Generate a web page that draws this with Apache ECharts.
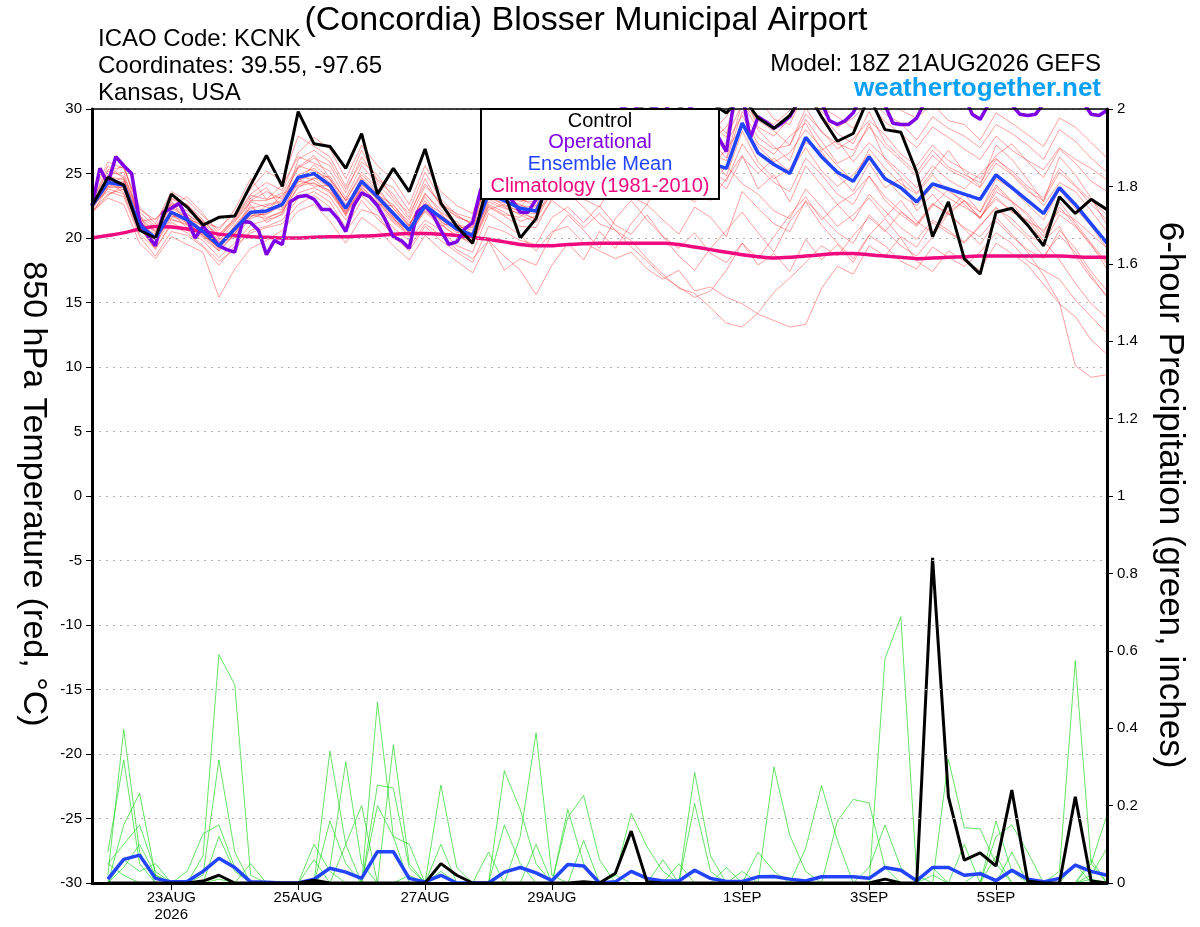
<!DOCTYPE html>
<html><head><meta charset="utf-8">
<script src="https://cdn.jsdelivr.net/npm/echarts@6/dist/echarts.min.js"></script>
<style>html,body{margin:0;padding:0;background:#fff}#c{width:1200px;height:927px}</style>
</head><body><div id="c"></div>
<script>
// x values are 6-hour steps from 18Z 21AUG2026 (0) to 18Z 06SEP2026 (64)
const tickIndex = [5, 13, 21, 29, 41, 49, 57];
const tickLabels = ['23AUG\n2026', '25AUG', '27AUG', '29AUG', '1SEP', '3SEP', '5SEP'];

// Control (black) 850 hPa temperature, 6-hourly
const controlTemp = [
  22.5, 24.7, 24.1, 20.6, 20.0, 23.4, 22.4, 21.0, 21.6, 21.7, 24.1, 26.4, 24.0,
  29.8, 27.3, 27.1, 25.4, 28.1, 23.4, 25.4, 23.6, 26.9, 22.7, 20.9, 19.6, 24.5,
  23.5, 20.0, 21.5, 25.5, 27.0, 28.5, 29.0, 28.0, 29.5, 30.5, 29.0, 30.0, 31.0,
  30.5, 29.7, 31.0, 29.3, 28.5, 29.5, 31.5, 29.4, 27.5, 28.1, 31.0, 28.4, 28.2,
  25.1, 20.1, 22.8, 18.4, 17.2, 22.0, 22.3, 21.0, 19.4, 23.2, 21.9, 23.0, 22.2];
// Ensemble mean (blue)
const meanTemp = [
  22.5, 24.3, 24.1, 21.0, 20.0, 22.0, 21.4, 20.5, 19.4, 20.7, 22.0, 22.1, 22.6,
  24.7, 25.0, 24.1, 22.3, 24.4, 23.2, 21.9, 20.6, 22.5, 21.6, 20.7, 20.2, 23.4,
  22.9, 22.3, 22.1, 24.5, 25.0, 25.3, 25.6, 25.2, 25.8, 26.2, 25.5, 26.0, 26.4,
  25.8, 25.4, 28.9, 26.6, 25.7, 25.0, 27.8, 26.3, 25.1, 24.4, 26.3, 24.6, 23.9,
  22.8, 24.2, 23.8, 23.4, 23.0, 24.9, 23.9, 22.9, 21.9, 23.9, 22.6, 21.1, 19.6];
// Climatology 1981-2010 (pink)
const climTemp = [
  20.0, 20.2, 20.4, 20.7, 20.9, 20.85, 20.7, 20.5, 20.3, 20.2, 20.1, 20.05, 20.0,
  20.0, 20.05, 20.1, 20.1, 20.15, 20.2, 20.3, 20.35, 20.35, 20.3, 20.2, 20.05, 19.9,
  19.7, 19.5, 19.4, 19.4, 19.5, 19.55, 19.6, 19.6, 19.6, 19.6, 19.6, 19.5, 19.3,
  19.1, 18.9, 18.7, 18.55, 18.45, 18.5, 18.6, 18.7, 18.8, 18.8, 18.7, 18.6, 18.5,
  18.4, 18.45, 18.5, 18.55, 18.6, 18.6, 18.6, 18.6, 18.6, 18.6, 18.55, 18.5, 18.5];
// Operational (purple), 3-hourly
const operTemp = [
  22.5, 25.4, 24.2, 26.3, 25.6, 25.0, 21.3, 20.2, 19.4, 22.0, 22.3, 22.7, 21.5, 20.0, 20.9, 20.2,
  19.4, 19.1, 18.9, 21.3, 21.2, 20.6, 18.7, 19.8, 19.5, 22.8, 23.2, 23.3, 23.0, 22.2, 22.2, 21.5,
  20.5, 22.5, 23.5, 23.2, 22.5, 21.4, 20.1, 19.8, 19.2, 22.0, 22.5, 21.8, 20.6, 19.5, 19.7, 20.7,
  21.2, 23.7, 25.0, 24.5, 23.5, 22.9, 22.0, 22.0, 23.0, 25.2, 26.0, 26.8, 27.5, 28.1, 27.4, 28.6,
  29.3, 28.7, 29.5, 30.2, 29.6, 30.4, 30.8, 30.1, 29.7, 30.5, 31.0, 30.4, 29.8, 29.1, 28.6, 27.8,
  26.7, 30.8, 31.2, 27.7, 29.4, 29.0, 28.5, 28.9, 29.4, 30.5, 31.5, 31.0, 30.5, 29.1, 28.8, 29.1,
  29.7, 31.0, 31.5, 31.0, 30.3, 28.9, 28.8, 28.8, 29.3, 30.5, 31.0, 31.5, 32.0, 31.5, 31.0, 29.6,
  29.2, 30.3, 31.0, 31.5, 30.3, 29.6, 29.5, 29.6, 30.4, 31.0, 31.5, 31.2, 31.0, 30.5, 29.6, 29.5,
  29.9];

// Ensemble member temperatures (thin red)
const memT01 = [22.3,24.9,25.1,21.5,20.4,23.1,22.6,21.2,20.8,21.9,23.8,25.2,24.4, 27.9,27.1,26.3,24.0,26.8,24.5,23.9,22.1,25.1,23.0,21.8,21.0,24.8, 24.0,23.2,23.5,26.3,27.5,28.0,27.2,28.4,29.5,28.1,29.2,30.5,29.0, 28.2,29.4,31.5,28.6,27.9,29.3,31.2,29.5,28.1,27.3,29.8,27.4,26.2, 25.1,26.8,25.5,24.9,24.3,26.1,25.2,24.0,23.1,25.4,24.1,22.9,21.8];
const memT02 = [22.6,23.6,23.2,20.1,18.6,20.5,20.2,19.3,17.9,19.4,20.4,20.8,21.1, 22.6,23.3,22.4,20.5,22.2,21.8,20.1,19.0,20.9,19.8,18.9,18.1,20.9, 20.5,19.8,19.5,21.6,22.4,21.2,22.5,21.0,20.3,21.8,20.1,19.2,20.4, 18.8,18.1,19.6,17.9,18.8,17.4,19.9,18.3,19.5,18.1,20.2,19.4,18.2, 17.6,19.3,18.5,17.8,18.9,20.4,19.6,18.2,17.5,16.8,15.2,13.9,12.6];
const memT03 = [22.8,25.6,24.6,21.8,19.5,22.9,21.0,20.0,19.0,20.3,22.9,23.6,23.0, 25.5,26.4,24.6,22.9,25.1,23.9,22.3,20.9,23.5,21.9,20.5,20.1,23.9, 23.8,22.9,22.8,25.1,26.4,24.8,26.9,27.8,25.4,26.8,28.3,27.1,25.9, 27.6,26.2,30.5,28.4,27.1,26.0,29.2,27.5,25.8,26.4,28.9,26.1,24.7, 23.5,25.2,26.8,25.1,24.0,27.2,26.1,24.5,22.8,26.3,24.9,23.1,21.0];
const memT04 = [21.9,23.9,24.0,20.6,20.2,21.6,21.9,20.8,19.9,20.1,21.5,22.0,23.4, 24.1,24.6,24.8,22.9,23.7,22.6,22.5,21.2,22.0,20.9,21.3,19.6,22.5, 21.8,21.6,22.9,23.9,24.6,26.1,25.3,24.2,26.5,27.3,25.0,26.7,27.9, 26.4,24.8,28.3,25.9,24.6,25.4,27.4,26.7,24.9,23.6,25.8,23.9,24.6, 22.1,23.4,22.0,22.9,21.5,23.6,22.8,21.9,20.4,22.8,21.2,19.6,18.1];
const memT05 = [22.4,24.4,23.5,20.8,19.1,21.2,20.6,19.8,18.5,19.6,21.0,21.4,21.8, 23.5,23.9,23.2,21.4,23.3,22.1,20.8,19.8,21.4,20.6,19.4,18.9,21.9, 21.1,20.2,19.0,20.5,20.9,19.6,19.0,18.4,18.9,17.6,16.8,17.5,15.9, 16.2,15.4,14.9,14.1,13.6,13.1,13.3,16.1,17.8,17.2,19.4,18.6,20.1, 19.3,21.2,20.4,19.7,21.0,22.3,21.5,20.2,19.6,21.8,20.9,19.4,18.0];
const memT06 = [22.7,24.6,25.8,21.3,21.5,22.5,23.2,21.9,20.3,21.4,23.1,23.9,22.3, 26.1,26.8,25.9,23.8,25.9,24.9,23.1,21.9,24.2,22.6,21.9,21.5,24.2, 23.3,22.4,23.8,25.9,27.1,26.5,28.4,27.6,28.9,30.2,29.1,28.4,30.4, 29.5,28.1,32.0,30.9,29.2,28.8,31.5,30.1,29.4,28.5,30.8,29.6,28.9, 27.6,29.4,28.5,27.9,27.0,28.8,28.1,27.2,26.1,28.4,27.5,26.2,25.1];
const memT07 = [22.1,23.4,23.8,21.1,20.6,21.9,20.8,20.4,19.1,21.0,22.4,21.6,22.0, 24.0,24.3,23.5,21.8,24.0,22.7,21.3,20.4,22.9,21.2,20.8,19.8,22.8, 22.3,21.9,21.5,24.0,23.6,24.9,23.7,25.0,24.1,25.6,23.9,25.1,24.3, 22.9,24.6,26.4,23.8,24.9,22.8,25.6,24.1,22.6,23.4,24.8,22.9,21.8, 20.9,22.5,23.8,22.6,21.5,23.9,22.8,21.0,19.8,20.9,18.6,16.9,15.5];
const memT08 = [22.5,24.1,24.4,21.4,20.0,22.3,21.6,20.9,19.6,20.9,22.3,22.6,22.9, 24.9,25.4,24.3,22.4,24.7,23.5,22.0,20.7,22.6,21.5,20.6,20.4,23.6, 23.1,22.6,22.0,24.3,25.2,24.6,25.9,24.8,26.1,25.3,24.2,25.8,26.9, 25.1,24.4,27.3,25.5,24.3,23.6,26.2,24.9,23.4,22.6,24.8,23.2,22.1, 21.0,22.6,21.9,20.8,20.1,21.6,20.3,18.9,17.1,15.0,10.1,9.2,9.4];
const memT09 = [22.9,25.2,24.8,22.0,20.9,22.7,22.1,21.3,20.2,21.6,23.4,24.3,23.7, 26.6,27.8,26.9,24.6,27.2,25.6,24.5,22.6,25.6,23.6,22.5,21.9,25.2, 24.6,24.1,24.6,27.0,28.3,27.6,29.1,28.5,30.3,29.8,28.6,31.0,30.2, 29.4,30.8,33.0,31.2,30.6,31.4,33.2,31.8,30.9,30.1,32.1,30.7,29.9, 29.3,30.4,29.1,28.8,27.6,29.7,28.9,28.0,27.1,29.3,28.6,27.4,26.2];
const memT10 = [22.2,24.0,23.9,21.2,19.8,21.8,21.3,20.1,19.5,20.6,21.7,21.9,22.5, 24.5,24.9,23.9,21.9,24.2,23.0,21.6,20.1,22.3,21.8,20.9,20.6,23.3, 22.5,22.1,21.4,23.6,24.1,23.0,22.4,24.5,23.2,22.6,24.8,23.5,22.8, 24.1,25.6,24.2,23.4,22.1,21.5,23.8,22.4,20.9,21.8,23.1,21.6,22.9, 21.3,20.4,22.1,23.4,22.0,24.1,22.9,21.7,20.1,22.4,21.0,19.5,17.6];
const memT11 = [22.0,23.1,22.6,19.6,18.4,20.1,19.5,18.9,15.4,17.6,19.2,19.8,20.6, 22.1,22.6,21.3,19.6,21.6,20.7,19.4,18.3,20.2,19.1,18.2,17.3,19.8, 18.6,17.5,15.6,17.9,19.6,18.3,20.5,19.2,21.1,22.6,21.4,20.3,22.4, 21.6,20.1,23.6,22.3,21.1,20.5,22.9,21.7,20.4,19.6,21.8,20.6,19.4, 18.6,20.1,21.9,20.7,19.5,21.3,20.1,19.1,18.4,20.6,19.2,17.4,15.9];
const memT12 = [23.2,25.9,25.4,22.4,21.1,23.6,22.9,21.7,20.6,22.2,24.6,23.0,24.1, 26.3,25.8,25.2,23.1,25.6,24.2,22.9,21.4,24.0,22.8,21.6,21.2,24.5, 23.9,23.5,23.1,25.5,26.9,25.6,27.3,26.2,27.5,28.6,27.0,28.1,27.3, 28.9,27.8,30.4,29.1,28.3,27.2,29.6,28.3,26.9,27.7,29.1,28.0,26.5, 25.6,27.2,26.0,25.3,24.6,26.4,27.3,25.9,24.7,26.9,25.8,24.4,23.6];
const memT13 = [22.4,23.8,23.4,20.3,19.2,21.0,20.4,19.4,18.2,19.1,20.6,20.9,21.4, 23.1,23.6,22.8,20.8,22.9,21.5,20.3,19.3,21.1,20.2,19.1,18.4,19.8, 17.5,18.4,17.9,20.3,21.8,20.6,19.2,21.5,22.9,21.4,20.1,18.6,17.5, 19.2,20.6,22.0,20.4,18.9,21.3,22.8,21.0,19.6,18.4,20.2,21.5,20.0, 18.2,17.4,19.0,18.2,17.5,19.6,18.8,17.9,16.4,14.9,13.9,12.1,11.0];
const memT14 = [22.6,24.7,24.2,21.7,20.8,22.4,21.7,20.6,19.8,21.2,22.8,22.4,22.2, 24.3,25.7,24.5,22.6,24.1,23.3,22.6,21.0,23.2,21.3,20.4,20.9,23.1, 22.7,23.0,22.5,25.2,26.0,25.2,24.6,26.8,27.5,26.4,27.6,26.3,28.1, 26.8,27.4,29.5,27.3,26.5,27.9,28.9,26.8,27.6,25.9,27.4,26.2,25.1, 23.9,25.6,24.5,23.8,25.0,26.2,25.0,23.8,22.5,24.3,23.6,22.1,20.5];
const memT15 = [22.3,24.2,24.7,20.9,19.6,21.4,21.1,20.3,19.2,20.4,21.6,22.5,22.8, 24.4,24.2,23.7,22.1,24.6,22.9,21.4,20.6,22.7,22.0,21.1,20.3,22.6, 22.0,21.3,21.7,24.8,25.6,23.9,24.5,23.4,25.1,24.6,25.9,24.7,23.6, 24.9,23.8,26.3,25.0,26.2,25.1,27.0,25.2,24.0,24.9,26.5,24.7,23.3, 22.5,24.0,23.1,22.4,21.6,23.2,22.0,21.4,19.8,18.3,16.5,14.9,13.8];
const memT16 = [22.5,25.3,25.5,22.2,21.4,23.0,22.6,21.4,20.0,21.5,23.3,23.0,23.2, 25.4,26.2,25.6,23.5,26.3,24.4,23.4,21.6,24.6,22.4,21.7,21.1,23.9, 23.6,22.8,23.3,25.8,26.6,27.2,26.3,27.1,28.2,27.4,28.8,29.6,28.3, 27.5,28.6,31.0,29.4,28.8,29.9,31.9,29.8,28.6,29.3,30.6,29.0,28.1, 27.0,28.6,27.8,26.9,26.1,27.9,26.8,26.0,25.3,27.0,26.1,25.4,24.5];
const memT17 = [22.8,24.5,23.7,21.0,20.3,21.7,21.2,20.2,19.3,20.8,21.9,21.8,22.7, 24.8,24.5,23.6,21.9,24.5,23.4,21.6,20.9,22.4,21.4,20.7,19.9,23.0, 22.4,21.8,21.2,22.9,22.0,20.8,21.9,20.6,19.8,18.4,17.2,16.1,15.7, 14.6,13.4,13.1,14.2,15.8,16.9,18.1,19.4,18.6,20.2,21.6,20.5,22.0, 21.1,22.7,21.8,22.9,21.6,23.0,22.1,21.3,20.6,22.1,21.4,20.3,19.2];
const memT18 = [22.0,23.3,24.1,20.7,19.3,22.1,21.5,21.0,19.7,20.0,22.6,21.2,21.9, 24.6,24.0,24.1,22.0,23.8,22.4,21.2,20.2,22.1,21.0,20.2,19.5,22.2, 22.6,22.0,21.9,23.4,25.3,26.8,25.6,24.9,26.1,24.8,26.4,27.7,26.2, 25.4,26.9,28.6,27.1,25.9,26.6,28.4,27.0,25.6,24.4,26.9,25.4,24.2, 23.4,24.9,23.6,22.9,22.0,24.6,23.8,22.6,21.4,23.7,22.3,20.9,19.2];
const memT19 = [22.4,24.0,24.3,21.0,19.9,21.5,21.0,20.2,19.0,20.3,21.8,21.5,22.1, 23.9,24.7,23.9,21.7,23.9,22.8,21.5,20.5,22.2,21.1,20.1,19.7,22.4, 21.7,20.9,20.8,23.1,23.5,22.4,21.1,20.6,19.3,18.2,17.0,16.2,15.4, 15.9,17.5,19.6,18.4,20.1,21.8,23.2,21.4,22.6,21.3,23.4,22.1,20.8, 19.9,21.4,20.6,19.6,20.9,22.4,21.1,20.0,18.6,20.2,18.9,17.1,15.4];
const memT20 = [22.6,24.8,24.5,21.6,20.5,22.6,21.8,21.1,20.1,21.3,22.9,22.9,23.5, 25.6,25.2,24.6,22.9,24.9,23.7,22.3,21.0,23.4,22.2,21.0,20.8,24.0, 23.2,22.5,22.4,25.3,25.9,26.9,25.8,26.5,25.7,27.0,26.2,28.4,27.2, 26.5,26.0,29.8,27.8,26.9,27.2,30.1,28.2,27.3,26.8,28.6,27.1,26.0, 24.8,26.4,25.3,24.7,23.9,25.8,24.9,23.6,22.9,25.1,24.0,22.6,21.4];

// 6-hour precipitation (inches), steps 1..64
const controlPrecip = [0,0,0,0,0,0,0.005,0.02, 0,0,0,0,0,0.007,0,0, 0,0,0,0,0,0.05,0.02,0, 0,0,0,0,0,0,0.003,0, 0.025,0.134,0.003,0,0,0,0,0, 0,0,0,0,0,0,0,0, 0,0.01,0,0,0.84,0.223,0.059,0.078, 0.044,0.24,0.005,0,0,0.223,0.005,0];
const meanPrecip = [0.01,0.061,0.072,0.012,0.003,0.004,0.03,0.064, 0.04,0.003,0.002,0,0,0.01,0.038,0.028, 0.012,0.081,0.081,0.012,0.003,0.02,0,0, 0,0.028,0.04,0.026,0.006,0.048,0.044,0, 0.003,0.03,0.012,0.005,0.005,0.033,0.012,0.004, 0.004,0.016,0.017,0.01,0.005,0.016,0.016,0.016, 0.012,0.04,0.033,0.006,0.04,0.04,0.02,0.024, 0.006,0.033,0.01,0.003,0.012,0.046,0.03,0.02];
const memP01 = [0.02,0.397,0.08,0,0,0,0,0.01, 0,0,0,0,0,0.1,0.03,0, 0,0,0,0.02,0,0,0,0, 0,0,0,0,0,0,0,0, 0.02,0.18,0.093,0.03,0,0,0,0, 0,0,0,0,0,0,0,0, 0,0,0,0,0.02,0,0,0, 0,0,0,0,0,0,0.01,0];
const memP02 = [0.08,0.318,0.05,0,0,0,0,0, 0,0,0,0,0,0,0.16,0.05, 0,0,0,0,0,0,0,0, 0,0,0,0,0,0.19,0.05,0, 0,0,0,0,0,0,0,0, 0,0,0,0,0,0,0,0, 0,0,0,0,0.04,0,0,0, 0,0,0,0,0,0.05,0,0];
const memP03 = [0,0.15,0.232,0.02,0,0,0,0, 0,0,0,0,0,0,0,0, 0,0,0.357,0.05,0,0,0,0, 0,0,0,0,0,0,0,0, 0,0,0,0,0.05,0,0,0, 0,0,0,0,0,0,0,0, 0,0,0,0,0,0,0,0.03, 0,0,0,0,0,0,0,0];
const memP04 = [0.05,0.1,0.15,0.03,0,0,0,0, 0,0,0,0,0,0,0,0, 0,0,0,0,0,0.253,0.04,0, 0,0,0,0,0,0,0,0, 0,0,0,0,0,0.286,0.07,0, 0,0,0,0,0,0,0,0, 0,0,0,0,0,0,0,0, 0,0.08,0,0,0,0,0,0];
const memP05 = [0,0.06,0.03,0.05,0,0,0,0, 0,0,0,0,0,0,0,0, 0,0.467,0.12,0.1,0,0,0,0, 0,0,0,0,0,0,0,0, 0,0,0,0,0,0.205,0.03,0, 0,0,0,0,0,0,0,0, 0,0,0,0,0,0,0,0, 0.07,0,0,0,0,0,0,0];
const memP06 = [0,0.04,0.1,0.02,0,0,0,0, 0,0,0,0,0,0,0,0, 0,0.253,0.245,0.04,0,0,0,0, 0,0,0,0,0,0,0,0, 0,0,0,0,0,0,0,0, 0,0.08,0.03,0,0,0,0,0, 0,0,0,0,0,0,0,0, 0,0,0,0,0,0,0.06,0];
const memP07 = [0.05,0.02,0,0,0,0,0,0, 0,0,0,0,0,0,0,0, 0,0.2,0.12,0,0,0,0,0, 0,0.15,0.05,0,0,0,0,0, 0,0,0,0,0,0,0,0, 0,0,0.3,0.123,0.03,0,0,0, 0,0,0,0,0,0,0,0, 0,0,0,0,0,0,0,0];
const memP08 = [0,0,0,0,0,0.03,0.127,0.15, 0.04,0,0,0,0,0,0,0, 0,0,0,0,0,0,0,0, 0,0,0,0,0,0.17,0.226,0.06, 0,0,0,0,0,0,0,0, 0,0,0,0,0,0,0,0, 0,0,0,0,0,0,0.1,0, 0,0,0,0,0,0,0,0];
const memP09 = [0,0,0,0,0,0,0.07,0.59, 0.513,0.02,0,0,0,0,0,0, 0,0,0,0,0,0,0,0, 0,0,0,0,0,0,0,0, 0,0,0,0.06,0,0,0,0, 0,0,0,0,0.09,0.252,0.11,0, 0,0,0,0,0,0,0,0, 0,0,0,0,0,0,0,0];
const memP10 = [0,0,0,0,0,0,0.02,0.318, 0.08,0,0,0,0,0.06,0,0, 0,0,0,0,0,0,0,0, 0,0,0,0,0,0,0,0, 0,0,0,0,0,0,0,0, 0,0,0,0,0,0,0.16,0.216, 0.207,0.04,0,0,0,0,0,0, 0,0,0,0,0,0,0,0];
const memP11 = [0,0,0,0,0,0,0,0.12, 0.03,0,0,0,0,0,0,0, 0,0,0,0,0,0.03,0,0, 0.08,0,0,0,0,0,0,0, 0,0,0,0,0,0,0,0, 0,0,0,0,0,0,0,0, 0,0.58,0.688,0.02,0,0,0,0, 0,0,0,0,0,0,0,0];
const memP12 = [0,0,0,0,0,0,0,0, 0,0.05,0,0,0,0,0,0.1, 0,0,0,0,0,0.1,0,0, 0,0,0,0.1,0,0,0,0, 0,0,0,0,0,0,0,0, 0,0,0,0,0,0,0,0, 0.04,0.15,0.04,0,0,0,0,0, 0,0,0,0,0,0,0.05,0.176];
const memP13 = [0,0,0,0,0,0,0,0, 0,0,0,0,0,0,0.341,0.1, 0.2,0,0,0,0,0,0,0, 0,0,0,0,0,0,0,0, 0,0,0,0,0,0,0,0, 0,0,0,0,0,0,0,0, 0,0,0,0,0,0.32,0.143,0.14, 0.05,0,0,0,0,0,0,0];
const memP14 = [0,0,0,0,0,0,0,0, 0,0,0,0,0,0,0.04,0.313, 0.05,0,0,0,0,0,0,0, 0,0,0,0,0,0,0,0, 0,0,0,0,0,0,0,0, 0.03,0,0,0,0,0,0,0, 0,0,0,0,0,0,0,0, 0.16,0.03,0,0,0,0,0.02,0.09];
const memP15 = [0,0,0,0,0,0,0,0, 0,0,0,0,0,0,0,0, 0,0,0,0,0,0,0,0, 0,0.29,0.19,0.05,0,0,0,0, 0.02,0,0,0,0,0,0,0, 0,0,0,0,0,0,0,0, 0,0,0,0,0,0,0,0, 0.12,0.15,0.08,0,0,0,0,0];
const memP16 = [0,0,0,0,0,0,0,0, 0,0,0,0,0,0,0,0, 0,0,0,0,0,0,0,0, 0,0,0.12,0.388,0.02,0,0.11,0, 0,0,0,0,0,0,0,0.04, 0,0,0,0,0,0,0,0, 0,0,0,0,0,0,0,0, 0,0,0,0,0.03,0.574,0.05,0];

const memberTemps = [memT01,memT02,memT03,memT04,memT05,memT06,memT07,memT08,memT09,memT10,memT11,memT12,memT13,memT14,memT15,memT16,memT17,memT18,memT19,memT20];
const memberPrecips = [memP01,memP02,memP03,memP04,memP05,memP06,memP07,memP08,memP09,memP10,memP11,memP12,memP13,memP14,memP15,memP16];

const FONT = '"Liberation Sans", Arial, Helvetica, sans-serif';
const base = {type: 'line', symbol: 'none', silent: true, animation: false, clip: true, emphasis: {disabled: true}};
const series = [];
memberTemps.forEach(a => series.push(Object.assign({}, base, {
  data: a.map((v, k) => [k, v]), z: 1,
  lineStyle: {color: 'rgba(255,40,40,0.55)', width: 0.8}
})));
memberPrecips.forEach(a => series.push(Object.assign({}, base, {
  yAxisIndex: 1, data: a.map((v, k) => [k + 1, v]), z: 2,
  lineStyle: {color: 'rgba(30,215,30,0.85)', width: 0.8}
})));
series.push(Object.assign({}, base, {data: climTemp.map((v, k) => [k, v]), z: 3, smooth: 0.3,
  lineStyle: {color: '#f00a80', width: 3.5}}));
series.push(Object.assign({}, base, {data: operTemp.map((v, j) => [j / 2, v]), z: 4,
  lineStyle: {color: '#7f00e6', width: 3.5}}));
series.push(Object.assign({}, base, {data: meanTemp.map((v, k) => [k, v]), z: 5,
  lineStyle: {color: '#2244ff', width: 3.5}}));
series.push(Object.assign({}, base, {yAxisIndex: 1, data: meanPrecip.map((v, k) => [k + 1, v]), z: 5,
  lineStyle: {color: '#2244ff', width: 3.5}}));
series.push(Object.assign({}, base, {data: controlTemp.map((v, k) => [k, v]), z: 6,
  lineStyle: {color: '#000', width: 3}}));
series.push(Object.assign({}, base, {yAxisIndex: 1, data: controlPrecip.map((v, k) => [k + 1, v]), z: 6,
  lineStyle: {color: '#000', width: 3}}));

function txt(x, y, text, font, fill, align, extra) {
  return Object.assign({type: 'text', x: x, y: y, z: 110,
    style: {text: text, font: font, fill: fill, textAlign: align || 'left', textVerticalAlign: 'middle'}}, extra || {});
}

const chart = echarts.init(document.getElementById('c'), null, {renderer: 'canvas'});
chart.setOption({
  animation: false,
  backgroundColor: '#fff',
  grid: {left: 92, right: 93, top: 109, bottom: 44},
  xAxis: [{
    type: 'value', min: 0, max: 64, position: 'bottom', z: 20,
    axisLine: {show: true, onZero: false, lineStyle: {color: '#000', width: 3}},
    axisTick: {show: true, customValues: tickIndex, length: 7, lineStyle: {color: '#000', width: 1}},
    axisLabel: {show: true, customValues: tickIndex, color: '#000', fontSize: 15, fontFamily: FONT, lineHeight: 17, margin: 6,
      formatter: v => tickLabels[tickIndex.indexOf(v)] || ''},
    splitLine: {show: false}
  }, {
    type: 'value', min: 0, max: 64, position: 'top', z: 20,
    axisLine: {show: true, onZero: false, lineStyle: {color: '#000', width: 1.5}},
    axisTick: {show: false}, axisLabel: {show: false}, splitLine: {show: false}
  }],
  yAxis: [{
    type: 'value', min: -30, max: 30, interval: 5, position: 'left', z: 20,
    axisLine: {show: true, onZero: false, lineStyle: {color: '#000', width: 3}},
    axisTick: {show: true, length: 6, lineStyle: {color: '#000', width: 1}},
    axisLabel: {color: '#000', fontSize: 15, fontFamily: FONT, margin: 10},
    splitLine: {show: true, lineStyle: {color: '#b0b0b0', width: 1, type: [2, 5]}}
  }, {
    type: 'value', min: 0, max: 2, interval: 0.2, position: 'right', z: 20,
    axisLine: {show: true, onZero: false, lineStyle: {color: '#000', width: 3}},
    axisTick: {show: true, length: 6, lineStyle: {color: '#000', width: 1}},
    axisLabel: {color: '#000', fontSize: 15, fontFamily: FONT, margin: 10,
      formatter: v => String(Math.round(v * 10) / 10)},
    splitLine: {show: false}
  }],
  series: series,
  graphic: [
    txt(586, 21, '(Concordia) Blosser Municipal Airport', '34px ' + FONT, '#000', 'center'),
    txt(98, 39, 'ICAO Code: KCNK', '24px ' + FONT, '#000'),
    txt(98, 66, 'Coordinates: 39.55, -97.65', '24px ' + FONT, '#000'),
    txt(98, 93, 'Kansas, USA', '24px ' + FONT, '#000'),
    txt(1101, 64, 'Model: 18Z 21AUG2026 GEFS', '24px ' + FONT, '#000', 'right'),
    txt(1101, 89, 'weathertogether.net', 'bold 26px ' + FONT, '#0aa0f5', 'right'),
    txt(33, 494, '850 hPa Temperature (red, °C)', '34px ' + FONT, '#000', 'center', {rotation: -Math.PI / 2}),
    txt(1170, 495, '6-hour Precipitation (green, inches)', '35px ' + FONT, '#000', 'center', {rotation: -Math.PI / 2}),
    {type: 'rect', z: 100, shape: {x: 481, y: 109, width: 238, height: 90},
      style: {fill: '#fff', stroke: '#000', lineWidth: 2}},
    txt(600, 121, 'Control', '20px ' + FONT, '#000', 'center'),
    txt(600, 142, 'Operational', '20px ' + FONT, '#7f00e6', 'center'),
    txt(600, 164, 'Ensemble Mean', '20px ' + FONT, '#2244ff', 'center'),
    txt(600, 186, 'Climatology (1981-2010)', '20px ' + FONT, '#f00a80', 'center')
  ]
});
</script>
</body></html>
